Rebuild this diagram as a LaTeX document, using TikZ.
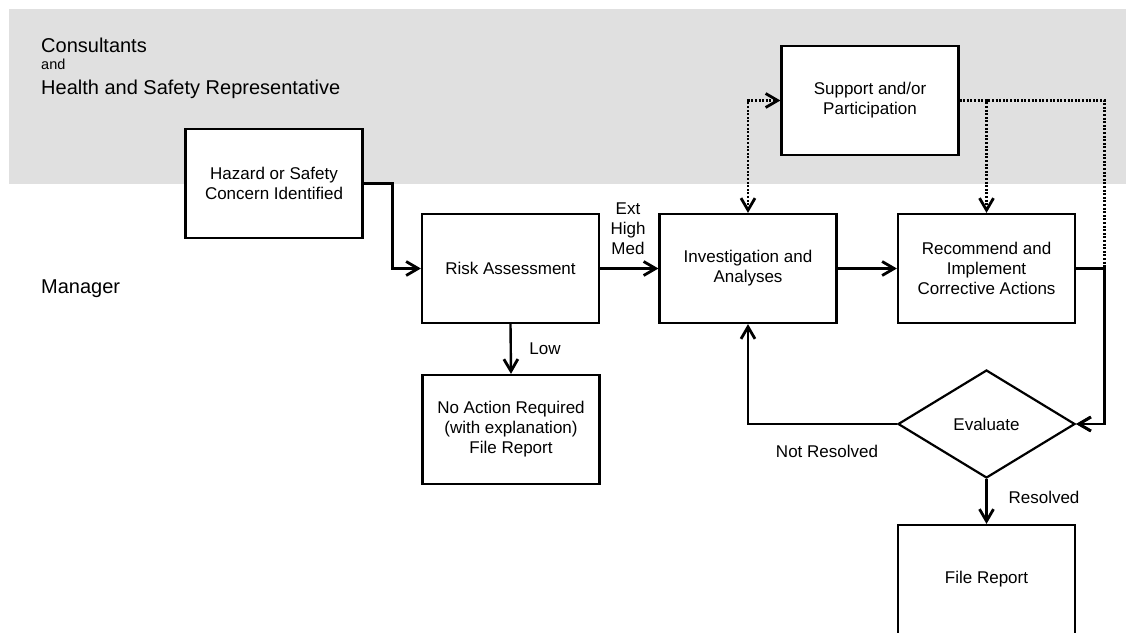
\documentclass[tikz,border=0pt]{standalone}
\usepackage{fontspec}
\setmainfont{Liberation Sans}
\usetikzlibrary{arrows.meta,shapes.geometric}
\definecolor{bandgray}{HTML}{E0E0E0}
\tikzset{
  boxtext/.style={font=\fontsize{17}{20}\selectfont, align=center},
  stepbox/.style={draw, line width=2.2pt, fill=white, boxtext,
    minimum width=177pt, minimum height=109pt, inner sep=2pt},
  decide/.style={draw, line width=2.2pt, fill=white, diamond, boxtext,
    minimum width=177pt, minimum height=108pt, aspect=1.64, inner sep=0pt},
  barb/.tip={Straight Barb[length=12pt,width=14pt,line width=2.8pt]},
  flow/.style={line width=2.4pt, -barb},
  linkdot/.style={line width=2.5pt, dash pattern=on 2pt off 1.6pt},
  dotarr/.style={linkdot, -barb},
  dotboth/.style={linkdot, barb-barb},
  lbl/.style={boxtext, inner sep=0pt},
  lane/.style={font=\fontsize{20}{24}\selectfont, inner sep=0pt, anchor=base west},
}
\begin{document}
\begin{tikzpicture}[x=1pt, y=-1pt]
\useasboundingbox (0,0) rectangle (1126,632);

% upper lane band
\fill[bandgray] (9,9) rectangle (1126,184);

% lane titles
\node[lane] (tcons) at (41,52) {Consultants};
\node[lane, font=\fontsize{14.5}{16}\selectfont] (tand) at (41,69.5) {and};
\node[lane] (thsr) at (41,94) {Health and Safety Representative};
\node[lane] (tman) at (41,293) {Manager};

% process steps
\node[stepbox] (hazard)  at (274,183.5)   {Hazard or Safety\\Concern Identified};
\node[stepbox] (risk)    at (510.5,268.5) {Risk Assessment};
\node[stepbox] (noact)   at (511,429.5)   {No Action Required\\(with explanation)\\File Report};
\node[stepbox] (invest)  at (748,268.5)   {Investigation and\\Analyses};
\node[stepbox] (recomm)  at (986.5,268.5) {Recommend and\\Implement\\Corrective Actions};
\node[stepbox] (support) at (870,100.5)   {Support and/or\\Participation};
\node[decide]  (eval)    at (986.5,424)   {Evaluate};
\node[stepbox] (filerep) at (986.5,579.5) {File Report};

\coordinate (rt) at (1104.5,100.5);

% main flow
\draw[flow] (hazard.east) -- ++(29,0) |- (risk.west);
\draw[flow] (risk.east) -- (invest.west);
\draw[flow] (risk.south) -- (noact.north);
\draw[flow] (invest.east) -- (recomm.west);
\draw[flow] (recomm.east) -- (recomm.east -| rt) |- (eval.east);
\draw[flow] (eval.west) -| (invest.south);
\draw[flow] (eval.south) -- (filerep.north);

% support links
\draw[dotboth] (invest.north) |- (support.west);
\draw[dotarr] (support.east) -| (recomm.north);
\draw[dotarr] (support.east) -- (rt) |- (eval.east);

% branch labels
\node[lbl] (lext) at (628,229) {Ext\\High\\Med};
\node[lbl] (llow) at (545,349) {Low};
\node[lbl] (lnot) at (827,451) {Not Resolved};
\node[lbl] (lres) at (1044,497) {Resolved};
\end{tikzpicture}
\end{document}
